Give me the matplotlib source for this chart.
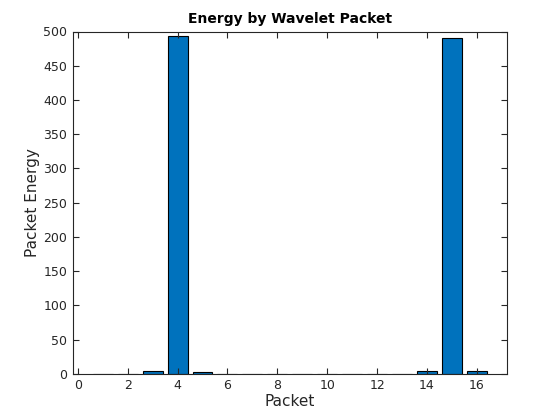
import numpy as np
import matplotlib.pyplot as plt

# Energy per wavelet packet
packets = np.arange(1, 17)
energy = [0.1, 0.1, 3.5, 494, 2.0, 0.1, 0.1, 0.1,
          0.1, 0.1, 0.1, 0.1, 0.1, 4.8, 491, 3.4]

fig = plt.figure(figsize=(5.6, 4.2), dpi=100)
ax = fig.add_axes([0.13, 0.11, 0.775, 0.815])

ax.bar(packets, energy, width=0.8, color='#0072BD', edgecolor='black', linewidth=0.8)

ax.set_xlim(-0.2, 17.2)
ax.set_ylim(0, 500)
ax.set_xticks(np.arange(0, 17, 2))
ax.set_yticks(np.arange(0, 501, 50))

gray = '#262626'
ax.tick_params(direction='in', top=True, right=True, labelsize=9, colors=gray, length=4, pad=4)
for s in ax.spines.values():
    s.set_color(gray)
    s.set_linewidth(0.8)

ax.set_xlabel('Packet', fontsize=11, color=gray, labelpad=1)
ax.set_ylabel('Packet Energy', fontsize=11, color=gray, labelpad=2)
ax.set_title('Energy by Wavelet Packet', fontsize=10, fontweight='bold', pad=6)

fig.savefig('out.png', dpi=100)
